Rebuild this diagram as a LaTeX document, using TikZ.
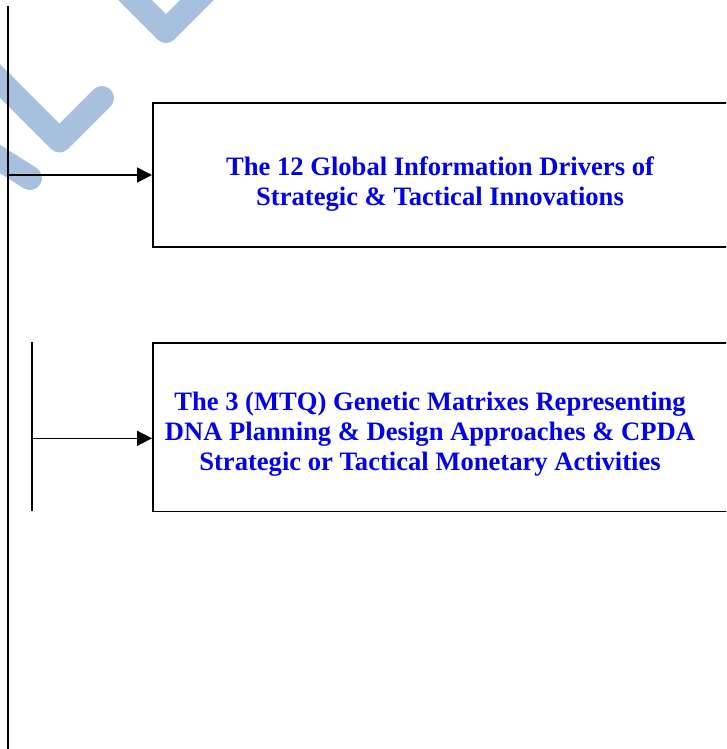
\documentclass[tikz,border=0pt]{standalone}
\usepackage{fontspec}
\setmainfont{Liberation Serif}
\usetikzlibrary{arrows.meta}
\definecolor{wm}{RGB}{167,192,222}
\definecolor{txt}{RGB}{0,0,235}
\begin{document}
\begin{tikzpicture}[x=1pt,y=-1pt,
  box/.style={draw=black,line width=1.6pt,rectangle,inner sep=0pt},
  lbl/.style={text=txt,font=\fontsize{26.6}{30}\selectfont\bfseries,align=center,inner sep=0pt},
  conn/.style={draw=black,line width=1.6pt,-{Triangle[length=15pt,width=15pt]}},
  bar/.style={draw=black,line width=1.9pt},
  check/.style={draw=wm,line width=24pt,line cap=round,line join=round}]
\useasboundingbox (0,0) rectangle (726,749);
\clip (0,0) rectangle (726,749);
% watermark
\draw[check] (120,-15) -- (166,31) -- (215,-18);
\draw[check] (-30,51) -- (59.5,140.5) -- (102,98);
\draw[check] (-30,140) -- (30,178);
% main vertical line
\coordinate (mtop) at (7.7,6);
\coordinate (mbot) at (7.7,749);
\draw[bar] (mtop) -- (mbot);
% short bar
\coordinate (stop) at (32,342);
\coordinate (sbot) at (32,511);
\draw[bar] (stop) -- (sbot);
% boxes
\node[box,minimum width=600pt,minimum height=143.5pt,anchor=north west] (b1) at (152,102.5) {};
\node[box,minimum width=600pt,minimum height=168.5pt,anchor=north west] (b2) at (152,342.3) {};
% labels (anchor base = baseline of last line)
\node[lbl,anchor=base] (t1) at (440,205) {The 12 Global Information Drivers of\\Strategic \& Tactical Innovations};
\node[lbl,anchor=base] (t2) at (430,470) {The 3 (MTQ) Genetic Matrixes Representing\\DNA Planning \& Design Approaches \& CPDA\\Strategic or Tactical Monetary Activities};
% connectors
\coordinate (a1) at (7.7,175);
\coordinate (a2) at (32,438.3);
\draw[conn] (a1) -- (a1 -| b1.west);
\draw[conn] (a2) -- (a2 -| b2.west);
\end{tikzpicture}
\end{document}
